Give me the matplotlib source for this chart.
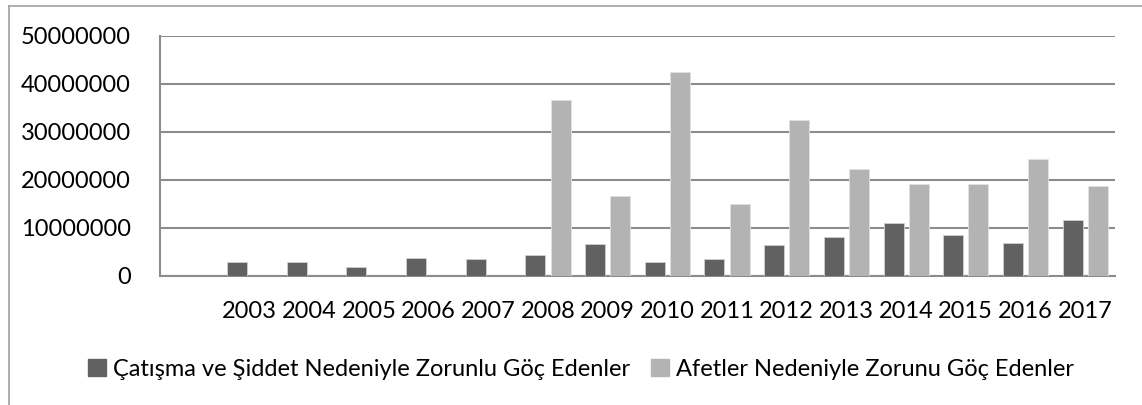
import matplotlib
matplotlib.use('agg')
import matplotlib.pyplot as plt
from matplotlib.patches import Rectangle
from matplotlib.lines import Line2D
import numpy as np

years = ['2003', '2004', '2005', '2006', '2007', '2008', '2009', '2010',
         '2011', '2012', '2013', '2014', '2015', '2016', '2017']
catisma = [2850000, 2850000, 1950000, 3800000, 3550000, 4450000, 6750000, 2900000,
           3500000, 6500000, 8200000, 11000000, 8600000, 6900000, 11700000]
afetler = [0, 0, 0, 0, 0, 36600000, 16700000, 42500000,
           15100000, 32500000, 22200000, 19200000, 19200000, 24300000, 18800000]
series_names = ['Çatışma ve Şiddet Nedeniyle Zorunlu Göç Edenler',
                'Afetler Nedeniyle Zorunu Göç Edenler']

dark = '#616161'
light = '#b3b3b3'
grid = '#8c8c8c'

plt.rcParams['font.family'] = ['Lato', 'DejaVu Sans']

W, H = 1142, 405
fig = plt.figure(figsize=(W / 100, H / 100), dpi=100)
ax = fig.add_axes([160 / W, 1 - 276 / H, (1115 - 160) / W, (276 - 36) / H])

# first category slot is left empty, like the source sheet
x = np.arange(len(years)) + 1
w = 0.335
ax.bar(x - 0.21, catisma, w, color=dark, edgecolor='#d0d0d0', linewidth=0.6, zorder=3)
ax.bar(x + 0.21, afetler, w, color=light, edgecolor='#e2e2e2', linewidth=0.6, zorder=3)

ax.set_xlim(-0.5, len(years) + 0.5)
ax.set_ylim(0, 50000000)
ax.set_yticks(range(0, 50000001, 10000000))
ax.set_yticklabels([str(v) for v in range(0, 50000001, 10000000)])
ax.set_xticks(x)
ax.set_xticklabels(years)
ax.yaxis.grid(True, color=grid, linewidth=1.5, zorder=0)
ax.set_axisbelow(True)
ax.tick_params(axis='both', length=0, labelsize=17, colors='black')
ax.tick_params(axis='y', pad=21)
ax.tick_params(axis='x', pad=18)
for s in ['top', 'right']:
    ax.spines[s].set_visible(False)
for s in ['left', 'bottom']:
    ax.spines[s].set_color(grid)
    ax.spines[s].set_linewidth(1.5)

handles = [Rectangle((0, 0), 1, 1, color=dark), Rectangle((0, 0), 1, 1, color=light)]
fig.legend(handles, series_names, loc='center', bbox_to_anchor=(581 / W, 1 - 369 / H),
           ncol=2, frameon=False, fontsize=17, handlelength=0.75, handleheight=0.75,
           handletextpad=0.3, columnspacing=0.9)

# outer chart frame (left and top edges only visible)
fig.add_artist(Line2D([9 / W, 9 / W], [0, 1 - 6 / H], color='#a0a0a0', linewidth=1.2))
fig.add_artist(Line2D([9 / W, 1], [1 - 6 / H, 1 - 6 / H], color='#a0a0a0', linewidth=1.2))

plt.savefig('out.png', dpi=100)
